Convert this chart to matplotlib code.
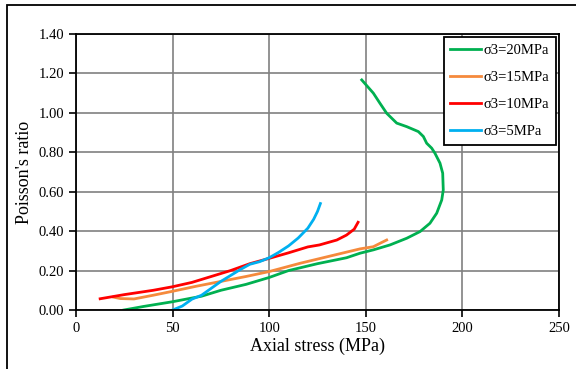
import matplotlib
matplotlib.use('Agg')
import matplotlib.pyplot as plt
from matplotlib.patches import Rectangle

plt.rcParams['font.family'] = ['Liberation Serif', 'DejaVu Serif']

# 데이터 ======================================================
x20 = [24.8, 35, 50, 65, 75, 88, 100, 110, 125, 140, 147, 153.9, 162.5, 171.2, 178.1, 183.2, 186.7,
       189.3, 190.1, 189.8, 188.4, 185.8, 184.1, 181.5, 179.8, 177.2, 171.2, 166.0, 160.8, 157.3,
       153.9, 147.9]
y20 = [0.0, 0.018, 0.042, 0.07, 0.1, 0.13, 0.165, 0.2, 0.235, 0.265, 0.288, 0.305, 0.33, 0.364,
       0.398, 0.44, 0.491, 0.558, 0.609, 0.694, 0.745, 0.795, 0.821, 0.846, 0.88, 0.905, 0.93,
       0.948, 0.998, 1.049, 1.1, 1.167]

x15 = [19.5, 23, 30, 40, 50, 62, 75, 88, 100, 116, 130, 147, 153.9, 157.3, 160.8]
y15 = [0.065, 0.058, 0.056, 0.075, 0.095, 0.12, 0.145, 0.17, 0.195, 0.237, 0.27, 0.31, 0.321,
       0.338, 0.355]

x10 = [12.5, 25, 40, 50, 60, 70, 80, 90, 100, 110, 120, 126, 135, 140, 144, 146]
y10 = [0.057, 0.078, 0.1, 0.118, 0.14, 0.17, 0.2, 0.235, 0.262, 0.29, 0.32, 0.33, 0.355, 0.38,
       0.41, 0.445]

x5 = [50, 55, 60, 65, 70, 75, 80, 85, 90, 95, 100, 105, 110, 115, 120, 123, 125, 126.5]
y5 = [0.0, 0.02, 0.055, 0.075, 0.11, 0.145, 0.175, 0.205, 0.232, 0.245, 0.265, 0.293, 0.325,
      0.365, 0.415, 0.46, 0.5, 0.54]

xticks = [0, 50, 100, 150, 200, 250]
yticks = [0.0, 0.2, 0.4, 0.6, 0.8, 1.0, 1.2, 1.4]

# 그래프 그리기 ====================================================
fig = plt.figure(figsize=(5.76, 3.69), dpi=100)
ax = fig.add_axes([76 / 576, 1 - 310 / 369, (559 - 76) / 576, (310 - 34) / 369])

# 바깥 테두리
fig.patches.append(Rectangle((7 / 576, -0.1), 1.0, 1 - 5 / 369 + 0.1, transform=fig.transFigure,
                             fill=False, edgecolor='black', linewidth=1.3))

ax.plot(x20, y20, color='#00b050', lw=2, label='σ3=20MPa')
ax.plot(x15, y15, color='#f58a3c', lw=2, label='σ3=15MPa')
ax.plot(x10, y10, color='#ff0000', lw=2, label='σ3=10MPa')
ax.plot(x5, y5, color='#00b0f0', lw=2, label='σ3=5MPa')

ax.set_xlim(0, 250)
ax.set_ylim(0, 1.4)
ax.set_xticks(xticks)
ax.set_yticks(yticks)
ax.set_yticklabels([f'{v:.2f}' for v in yticks])
ax.grid(True, color='#808080', lw=1.2)
ax.set_axisbelow(True)
ax.tick_params(direction='out', length=5, width=1.2, labelsize=10.5, colors='black')
for s in ax.spines.values():
    s.set_linewidth(1.3)
    s.set_color('black')

ax.set_xlabel('Axial stress (MPa)', fontsize=13, labelpad=2)
ax.set_ylabel("Poisson's ratio", fontsize=13, labelpad=4)

leg = ax.legend(loc='upper right', fontsize=10.5, fancybox=False, framealpha=1,
                edgecolor='black', handlelength=2.1, handletextpad=0.2,
                borderpad=0.45, labelspacing=0.95, borderaxespad=0,
                bbox_to_anchor=(0.994, 0.989))
leg.get_frame().set_linewidth(1.3)

fig.savefig('out.png', dpi=100)
